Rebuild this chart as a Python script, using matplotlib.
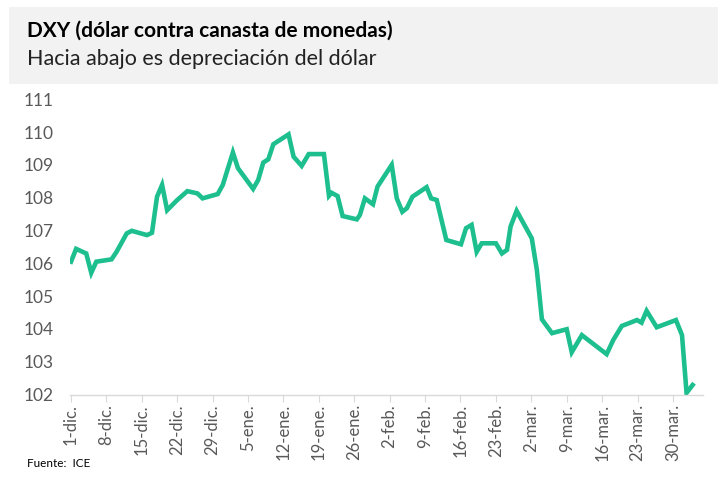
import matplotlib.pyplot as plt
from matplotlib.patches import Rectangle

# dias desde el 1-dic y nivel del DXY
days = [0, 1, 3, 4, 5, 8, 9, 11, 12, 15, 16, 17, 18, 19, 21, 23, 25, 26, 29, 30,
        32, 33, 36, 37, 38, 39, 40, 43, 44, 45.6, 47, 50, 51, 51.5, 52.7, 53.7, 56.5, 57.1, 58.1, 59.7,
        60.6, 63.4, 64.4, 65.5, 66.4, 67.5, 70.3, 71.2, 72.3, 74.2, 77.1, 78.1, 79.2, 80.2, 81.2, 84,
        85.2, 86.2, 86.9, 88.1, 91.1, 92.1, 93.1, 95.1, 98, 99, 101, 105.9, 107.2, 108.9, 111.9, 112.8,
        113.8, 115.8, 119.6, 120.8, 121.7, 122.9]
dxy = [106.05, 106.44, 106.30, 105.71, 106.05, 106.12, 106.35, 106.91, 106.99, 106.86, 106.93, 108.03,
       108.39, 107.62, 107.93, 108.20, 108.13, 107.98, 108.11, 108.39, 109.38, 108.90, 108.27, 108.54,
       109.07, 109.17, 109.63, 109.93, 109.25, 108.97, 109.33, 109.33, 108.06, 108.15, 108.05, 107.44,
       107.34, 107.47, 107.98, 107.80, 108.34, 109.00, 107.98, 107.57, 107.68, 108.03, 108.32, 107.98,
       107.93, 106.71, 106.58, 107.07, 107.17, 106.35, 106.61, 106.61, 106.30, 106.41, 107.12, 107.60,
       106.76, 105.80, 104.29, 103.87, 103.99, 103.29, 103.81, 103.23, 103.66, 104.09, 104.27, 104.19,
       104.55, 104.05, 104.27, 103.81, 102.05, 102.29]

tick_labels = ['1-dic.', '8-dic.', '15-dic.', '22-dic.', '29-dic.', '5-ene.', '12-ene.', '19-ene.',
               '26-ene.', '2-feb.', '9-feb.', '16-feb.', '23-feb.', '2-mar.', '9-mar.', '16-mar.',
               '23-mar.', '30-mar.']

plt.rcParams['font.family'] = ['Lato', 'DejaVu Sans']
gris = '#595959'

fig = plt.figure(figsize=(7.25, 4.94), dpi=100)

# caja gris del titulo
fig.patches.append(Rectangle((0.012, 0.83), 0.978, 0.155, transform=fig.transFigure,
                             facecolor='#f2f2f2', edgecolor='none', zorder=0))
fig.text(0.037, 0.937, 'DXY (dólar contra canasta de monedas)', fontsize=15, fontweight='bold',
         color='black', va='center')
fig.text(0.037, 0.88, 'Hacia abajo es depreciación del dólar', fontsize=15.5, color='#222222',
         va='center')

ax = fig.add_axes([0.0966, 0.2014, 0.8734, 0.5976])
ax.plot(days, dxy, color='#1dbf8e', linewidth=3.3, solid_joinstyle='miter')

ax.set_ylim(102, 111)
ax.set_yticks(range(102, 112))
ax.set_xlim(-0.2, 125)
ax.set_xticks([7 * i for i in range(len(tick_labels))])
ax.set_xticklabels(tick_labels, rotation=90)

for s in ['top', 'right', 'left']:
    ax.spines[s].set_visible(False)
ax.spines['bottom'].set_color('#d9d9d9')
ax.spines['bottom'].set_linewidth(1)
ax.tick_params(axis='y', length=0, labelsize=12.5, labelcolor=gris, pad=12)
ax.tick_params(axis='x', length=5, color='#d9d9d9', labelsize=12, labelcolor=gris, pad=2)

fig.text(0.037, 0.062, 'Fuente:  ICE', fontsize=8.5, color='black', va='center')

fig.savefig('out.png', dpi=100)
